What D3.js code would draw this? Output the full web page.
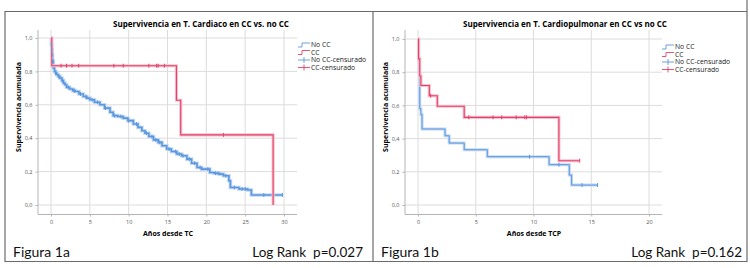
<!DOCTYPE html>
<html lang="es">
<head>
  <meta charset="UTF-8">
  <title>Supervivencia CC vs no CC</title>
  <script src="https://d3js.org/d3.v7.min.js"></script>
  <style>
    body { margin: 0; background: #fff; }
    svg { display: block; }
    .cap { white-space: pre; }
  </style>
</head>
<body>
<svg width="750" height="268"></svg>
<script>
// ---- data ----
const yTicks = [0, 0.2, 0.4, 0.6, 0.8, 1.0];
const legendLabels = ["No CC", "CC", "No CC-censurado", "CC-censurado"];

// Figura 1a: trasplante cardiaco
const fig1aXTicks = [0, 5, 10, 15, 20, 25, 30];
const fig1aNoCCTime = [0, 0.05, 0.1, 0.15, 0.2, 0.3, 0.45, 0.6, 0.75, 0.95, 1.15, 1.4, 1.6, 1.8, 2.0, 2.4, 2.8, 3.1, 3.6, 4.15, 4.6, 5.0, 5.6, 6.3, 6.9, 7.6, 8.0, 8.6, 9.3, 9.9, 10.6, 11.2, 11.7, 12.1, 12.6, 13.2, 13.8, 14.3, 14.9, 15.5, 16.2, 16.8, 17.5, 18.1, 18.8, 19.4, 20.45, 21.0, 21.7, 22.2, 22.9, 23.1, 24.2, 25.3, 25.8, 29.8];
const fig1aNoCCSurv = [1.0, 0.96, 0.93, 0.9, 0.86, 0.82, 0.80, 0.79, 0.78, 0.77, 0.76, 0.745, 0.73, 0.72, 0.705, 0.695, 0.685, 0.68, 0.665, 0.65, 0.64, 0.63, 0.615, 0.60, 0.58, 0.555, 0.535, 0.53, 0.52, 0.505, 0.485, 0.465, 0.445, 0.43, 0.41, 0.39, 0.375, 0.355, 0.335, 0.32, 0.305, 0.295, 0.275, 0.25, 0.225, 0.215, 0.195, 0.19, 0.185, 0.175, 0.145, 0.105, 0.096, 0.09, 0.06, 0.06];
const fig1aNoCCCens = [0.05, 0.1, 0.15, 0.2, 0.25, 0.6, 1.0, 1.5, 2.2, 3.0, 3.8, 4.5, 5.3, 6.0, 7.0, 8.2, 9.0, 10.0, 11.0, 12.3, 13.0, 13.5, 14.0, 15.2, 16.0, 16.5, 17.0, 17.8, 18.5, 19.2, 20.2, 21.2, 21.5, 22.5, 23.6, 24.6, 25.0, 27.4, 29.8];
const fig1aCCTime = [0, 0.1, 16.15, 16.7, 28.6];
const fig1aCCSurv = [1.0, 0.834, 0.627, 0.42, 0.0];
const fig1aCCCens = [1.29, 2.0, 2.7, 3.56, 8.1, 9.3, 12.6, 13.6, 13.8, 14.6, 22.2];

// Figura 1b: trasplante cardiopulmonar
const fig1bXTicks = [0, 5, 10, 15, 20];
const fig1bNoCCTime = [0, 0.05, 0.1, 0.15, 0.25, 0.35, 2.34, 2.7, 4.0, 6.0, 11.35, 13.1, 13.3, 15.55];
const fig1bNoCCSurv = [1.0, 0.875, 0.79, 0.58, 0.545, 0.458, 0.417, 0.373, 0.333, 0.291, 0.243, 0.18, 0.12, 0.12];
const fig1bNoCCCens = [9.65, 12.2, 14.2, 15.55];
const fig1bCCTime = [0, 0.05, 0.15, 0.25, 0.98, 1.67, 4.0, 12.2, 14.0];
const fig1bCCSurv = [1.0, 0.88, 0.777, 0.72, 0.658, 0.595, 0.528, 0.267, 0.267];
const fig1bCCCens = [1.1, 4.4, 6.5, 7.25, 8.5, 9.25, 9.4, 14.0];

const blue = "#5b97de", blueHalo = "#c2d8f3";
const red = "#e2416a", redHalo = "#f6c0cd";
const svg = d3.select("svg");
const comma = d => d3.format(".1f")(d).replace(".", ",");

// outer frame like the table in the document
const frame = svg.append("g").attr("stroke", "#6b6b6b").attr("stroke-width", 1.2).attr("fill", "none");
frame.append("line").attr("x1", 5).attr("x2", 747).attr("y1", 11.5).attr("y2", 11.5);
frame.append("line").attr("x1", 5).attr("x2", 747).attr("y1", 261.5).attr("y2", 261.5);
frame.append("line").attr("x1", 5).attr("x2", 5).attr("y1", 11).attr("y2", 262);
frame.append("line").attr("x1", 373).attr("x2", 373).attr("y1", 11).attr("y2", 262);
frame.append("line").attr("x1", 747).attr("x2", 747).attr("y1", 0).attr("y2", 262);

function survAt(times, surv, t) {
  const i = d3.bisectRight(times, t) - 1;
  return surv[Math.max(0, i)];
}

function panel(p) {
  const g = svg.append("g");
  const x = d3.scaleLinear().domain([0, p.xTicks[p.xTicks.length - 1]]).range([p.x0, p.x1]);
  const y = d3.scaleLinear().domain([0, 1]).range([205, p.yTop]);
  const L = p.left, R = p.right, T = 30, B = 214;

  // grid
  g.append("g").selectAll("line").data(p.xTicks).join("line")
    .attr("x1", d => x(d)).attr("x2", d => x(d)).attr("y1", T).attr("y2", B)
    .attr("stroke", "#dcdcdc");
  g.append("g").selectAll("line").data(yTicks).join("line")
    .attr("x1", L).attr("x2", R).attr("y1", d => y(d)).attr("y2", d => y(d))
    .attr("stroke", "#dcdcdc");

  // axes
  const ya = g.append("g").attr("transform", `translate(${L},0)`)
    .call(d3.axisLeft(y).tickValues(yTicks).tickFormat(comma).tickSize(2.5));
  const xa = g.append("g").attr("transform", `translate(0,${B})`)
    .call(d3.axisBottom(x).tickValues(p.xTicks).tickSize(2.5));
  [ya, xa].forEach(a => {
    a.select(".domain").remove();
    a.selectAll("line").attr("stroke", "#b5b5b5");
    a.selectAll("text").attr("fill", "#555").style("font", "5.5px 'Open Sans'");
  });
  xa.selectAll("text").attr("dy", "0.9em");
  g.append("line").attr("x1", L).attr("x2", L).attr("y1", T).attr("y2", B + 0.5).attr("stroke", "#b5b5b5");
  g.append("line").attr("x1", L).attr("x2", R).attr("y1", B + 0.5).attr("y2", B + 0.5).attr("stroke", "#b5b5b5");

  // curves
  const line = d3.line().curve(d3.curveStepAfter).x(d => x(d[0])).y(d => y(d[1]));
  const series = [
    { t: p.noccT, s: p.noccS, c: p.noccC, col: blue, halo: blueHalo, w: p.noccW },
    { t: p.ccT, s: p.ccS, c: p.ccC, col: red, halo: redHalo, w: 1.1 }
  ];
  series.forEach(se => {
    const pts = d3.zip(se.t, se.s);
    g.append("path").attr("d", line(pts)).attr("fill", "none")
      .attr("stroke", se.halo).attr("stroke-width", se.w + 2);
    g.append("path").attr("d", line(pts)).attr("fill", "none")
      .attr("stroke", se.col).attr("stroke-width", se.w);
  });
  series.forEach(se => {
    g.append("g").selectAll("line").data(se.c).join("line")
      .attr("x1", d => x(d)).attr("x2", d => x(d))
      .attr("y1", d => y(survAt(se.t, se.s, d)) - 2)
      .attr("y2", d => y(survAt(se.t, se.s, d)) + 2)
      .attr("stroke", se.col).attr("stroke-width", 1);
  });

  // titles
  g.append("text").attr("x", p.titleX).attr("y", 27).attr("text-anchor", "middle")
    .style("font", "bold 8px 'Open Sans'").text(p.title);
  g.append("text").attr("x", p.xTitleX).attr("y", 236).attr("text-anchor", "middle")
    .style("font", "bold 7px 'Open Sans'").text(p.xTitle);
  g.append("text").attr("transform", `translate(${L - 17},107) rotate(-90)`).attr("text-anchor", "middle")
    .style("font", "bold 7px 'Open Sans'").text("Supervivencia acumulada");

  // legend
  const lg = g.append("g").attr("transform", `translate(${p.legX},${p.legY})`);
  legendLabels.forEach((lab, i) => {
    const row = lg.append("g").attr("transform", `translate(0,${i * 7.5})`);
    const col = i % 2 === 0 ? blue : red;
    if (i < 2) {
      row.append("path").attr("d", "M0,2H4V-2H12").attr("fill", "none").attr("stroke", col).attr("stroke-width", 0.9);
    } else {
      row.append("path").attr("d", "M0,0H12M6,-3V3").attr("fill", "none").attr("stroke", col).attr("stroke-width", 0.9);
    }
    row.append("text").attr("x", 13).attr("y", 2.3).attr("fill", "#222")
      .style("font", "6.8px 'Open Sans'").text(lab);
  });

  // caption row
  g.append("text").attr("class", "cap").attr("x", p.capX).attr("y", 257)
    .style("font", "14px Lato").attr("fill", "#111").text(p.cap);
  g.append("text").attr("class", "cap").attr("x", p.rankX).attr("y", 257).attr("text-anchor", "end")
    .style("font", "13.5px Lato").attr("fill", "#111").text(p.rank);
}

panel({
  xTicks: fig1aXTicks, x0: 51, x1: 284, yTop: 38, left: 38, right: 297,
  noccT: fig1aNoCCTime, noccS: fig1aNoCCSurv, noccC: fig1aNoCCCens, noccW: 1.6,
  ccT: fig1aCCTime, ccS: fig1aCCSurv, ccC: fig1aCCCens,
  title: "Supervivencia en T. Cardiaco en CC vs. no CC", titleX: 201,
  xTitle: "Años desde TC", xTitleX: 168,
  legX: 298, legY: 45,
  cap: "Figura 1a", capX: 13, rank: "Log Rank  p=0.027", rankX: 363
});
panel({
  xTicks: fig1bXTicks, x0: 418, x1: 649, yTop: 39, left: 405, right: 662,
  noccT: fig1bNoCCTime, noccS: fig1bNoCCSurv, noccC: fig1bNoCCCens, noccW: 1,
  ccT: fig1bCCTime, ccS: fig1bCCSurv, ccC: fig1bCCCens,
  title: "Supervivencia en T. Cardiopulmonar en CC vs no CC", titleX: 565,
  xTitle: "Años desde TCP", xTitleX: 534,
  legX: 662, legY: 47,
  cap: "Figura 1b", capX: 381, rank: "Log Rank  p=0.162", rankX: 742
});
</script>
</body>
</html>
